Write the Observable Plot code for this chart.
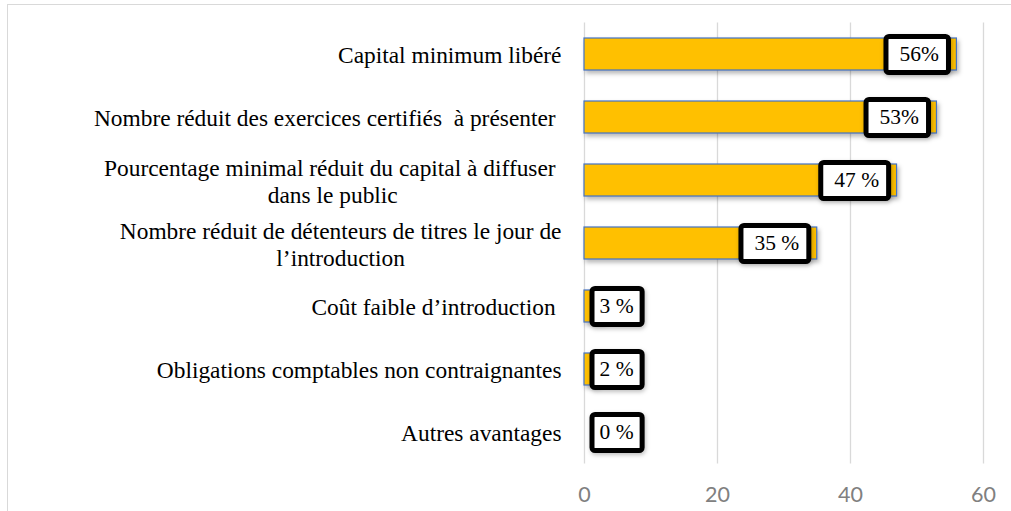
<!DOCTYPE html>
<html>
<head>
<meta charset="utf-8">
<script src="https://cdn.jsdelivr.net/npm/d3@7"></script>
<script src="https://cdn.jsdelivr.net/npm/@observablehq/plot@0.6"></script>
<style>
  html, body { margin: 0; padding: 0; background: #fff; }
  #wrap { position: relative; width: 1011px; height: 511px; overflow: hidden; }
  #frame { position: absolute; left: 7px; top: 4px; width: 1200px; height: 700px;
           border-top: 1px solid #d9d9d9; border-left: 1px solid #d9d9d9; pointer-events: none; }
  .bars { filter: drop-shadow(2px 3px 2px rgba(0,0,0,0.28)); }
  .lblbox { filter: drop-shadow(1px 2px 2px rgba(0,0,0,0.25)); }
</style>
</head>
<body>
<div id="wrap"><div id="frame"></div></div>
<script>
const categories = [
  "Capital minimum libéré",
  "Nombre réduit des exercices certifiés  à présenter\u00a0",
  "Pourcentage minimal réduit du capital à diffuser\u00a0\ndans le public",
  "Nombre réduit de détenteurs de titres le jour de\nl’introduction",
  "Coût faible d’introduction\u00a0",
  "Obligations comptables non contraignantes",
  "Autres avantages"
];
const values = [56, 53, 47, 35, 3, 2, 0];
const labels = ["56%", "53%", "47 %", "35 %", "3 %", "2 %", "0 %"];
const xTicks = [0, 20, 40, 60];

const data = categories.map((c, i) => ({category: c, value: values[i], label: labels[i]}));

const serif = "'Liberation Serif', 'Times New Roman', serif";

const chart = Plot.plot({
  width: 1011,
  height: 511,
  marginTop: 22.5,
  marginBottom: 47.5,
  marginLeft: 584,
  marginRight: 28,
  style: {background: "transparent", overflow: "visible"},
  x: {domain: [0, 60], ticks: xTicks},
  y: {domain: categories, paddingInner: 0.492, paddingOuter: 0.246},
  marks: [
    Plot.gridX(xTicks, {stroke: "#d9d9d9", strokeOpacity: 1, strokeWidth: 1.3}),
    Plot.barX(data.filter(d => d.value > 0), {
      x: "value", y: "category", fill: "#FFC000", stroke: "#4472C4", strokeWidth: 1.2,
      className: "bars"
    }),
    Plot.axisX({
      ticks: xTicks, tickSize: 0, tickPadding: 23, fontSize: 21.5,
      fontFamily: "Lato, 'Open Sans', sans-serif", color: "#808080", label: null
    }),
    Plot.axisY({
      tickSize: 0, tickPadding: 23, fontSize: 23.4, fontFamily: serif, color: "#000",
      lineHeight: 1.15, label: null
    }),
    Plot.text(data.filter(d => d.value >= 10), {
      x: "value", y: "category", text: "label", textAnchor: "end", dx: -18,
      fontSize: 21.5, fontFamily: serif, fill: "#000", className: "lbl-big"
    }),
    Plot.text(data.filter(d => d.value < 10), {
      x: 0, y: "category", text: "label", textAnchor: "start", dx: 15,
      fontSize: 21.5, fontFamily: serif, fill: "#000", className: "lbl-small"
    })
  ]
});

document.getElementById("wrap").appendChild(chart);
chart.style.position = "absolute";
chart.style.left = "0px";
chart.style.top = "0px";

// center multi-line category labels (as Excel wraps them)
chart.querySelectorAll('[aria-label="y-axis tick label"] text').forEach(t => {
  const ts = t.querySelectorAll("tspan");
  if (ts.length > 1) {
    const maxW = Math.max(...Array.from(ts, s => s.getComputedTextLength()));
    t.setAttribute("text-anchor", "middle");
    ts.forEach(s => s.setAttribute("x", -maxW / 2));
  }
});

// boxes around the value labels
function boxes(cls, padL, padR) {
  chart.querySelectorAll("g." + cls + " text").forEach(t => {
    const bb = t.getBBox();
    const r = document.createElementNS("http://www.w3.org/2000/svg", "rect");
    const tr = t.getAttribute("transform");
    if (tr) r.setAttribute("transform", tr);
    r.setAttribute("x", bb.x - padL);
    r.setAttribute("width", bb.width + padL + padR);
    r.setAttribute("y", -18);
    r.setAttribute("height", 36);
    r.setAttribute("rx", 3);
    r.setAttribute("fill", "#fff");
    r.setAttribute("stroke", "#000");
    r.setAttribute("stroke-width", 5);
    r.setAttribute("class", "lblbox");
    t.parentNode.insertBefore(r, t);
  });
}
boxes("lbl-big", 13.5, 9.5);
boxes("lbl-small", 7.5, 8.5);
</script>
</body>
</html>
